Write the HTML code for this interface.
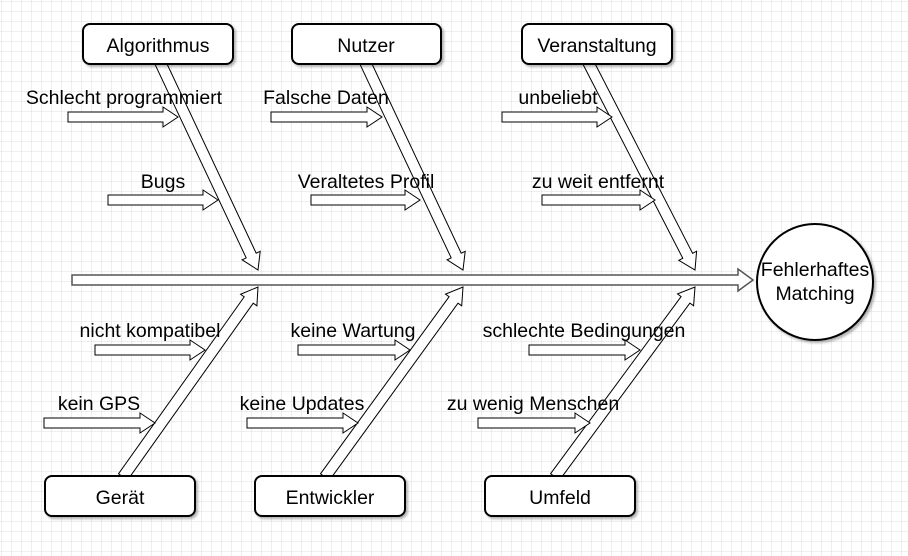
<!DOCTYPE html>
<html><head><meta charset="utf-8"><style>
html,body{margin:0;padding:0;background:#fff}
svg{display:block}
text{font-family:"Liberation Sans",sans-serif;font-size:19.5px;fill:#000}
</style></head><body>
<svg id="s" width="908" height="556" viewBox="0 0 908 556" xmlns="http://www.w3.org/2000/svg">
<defs>
<pattern id="g" width="10" height="10" patternUnits="userSpaceOnUse" x="2" y="2">
<path d="M10 0V10H0" fill="none" stroke="#dedede" stroke-width="1"/>
</pattern>
<filter id="sh" x="-10%" y="-10%" width="130%" height="140%"><feDropShadow dx="2" dy="2" stdDeviation="1.2" flood-color="#000" flood-opacity="0.3"/></filter>
</defs>
<rect width="908" height="556" fill="url(#g)"/>
<g id="arrows" fill="#fff" stroke="#000" stroke-width="1"></g>
<g fill="#fff" stroke="#000" stroke-width="2" filter="url(#sh)">
<rect x="83" y="24" width="150" height="40" rx="7"/>
<rect x="292" y="24" width="149" height="40" rx="7"/>
<rect x="522" y="24" width="150" height="40" rx="7"/>
<rect x="45" y="476" width="150" height="40" rx="7"/>
<rect x="255" y="476" width="150" height="40" rx="7"/>
<rect x="485" y="476" width="150" height="40" rx="7"/>
<circle cx="815" cy="282" r="58"/>
</g>
<g text-anchor="middle">
<text x="158" y="52">Algorithmus</text>
<text x="366" y="52">Nutzer</text>
<text x="597" y="52">Veranstaltung</text>
<text x="120" y="504">Gerät</text>
<text x="330" y="504">Entwickler</text>
<text x="560" y="504">Umfeld</text>
<text x="815" y="276">Fehlerhaftes</text>
<text x="815" y="300">Matching</text>
<text x="124" y="104">Schlecht programmiert</text>
<text x="163" y="188">Bugs</text>
<text x="326" y="104">Falsche Daten</text>
<text x="366" y="188">Veraltetes Profil</text>
<text x="558" y="104">unbeliebt</text>
<text x="598" y="188">zu weit entfernt</text>
<text x="150" y="337">nicht kompatibel</text>
<text x="99" y="410">kein GPS</text>
<text x="353" y="337">keine Wartung</text>
<text x="302" y="410">keine Updates</text>
<text x="584" y="337">schlechte Bedingungen</text>
<text x="533" y="410">zu wenig Menschen</text>
</g>
</svg>
<script>
function arr(x1,y1,x2,y2,sw,hw,hl,extra){
 var dx=x2-x1,dy=y2-y1,L=Math.hypot(dx,dy),ux=dx/L,uy=dy/L,nx=-uy,ny=ux;
 var bx=x2-ux*hl,by=y2-uy*hl;
 var p=[[x1+nx*sw,y1+ny*sw],[bx+nx*sw,by+ny*sw],[bx+nx*hw,by+ny*hw],[x2,y2],[bx-nx*hw,by-ny*hw],[bx-nx*sw,by-ny*sw],[x1-nx*sw,y1-ny*sw]];
 var e=document.createElementNS("http://www.w3.org/2000/svg","polygon");
 e.setAttribute("points",p.map(function(q){return q[0].toFixed(1)+","+q[1].toFixed(1)}).join(" "));
 if(extra){for(var k in extra)e.setAttribute(k,extra[k]);}
 document.getElementById("arrows").appendChild(e);
}
arr(72,280,753,280,5,11,15,{stroke:"#555","stroke-width":"1.5"});
arr(160,62,258,270,5.5,10,16);
arr(365,62,463,270,5.5,10,16);
arr(588,62,695,270,5.5,10,16);
arr(123,477,258,287,5.5,10,16);
arr(325,477,463,287,5.5,10,16);
arr(555,477,695,287,5.5,10,16);
var s=[[68,178,117],[108,218,200],[271,382,117],[311,420,200],[502,612,117],[542,655,200],
[95,205,350],[44,155,423],[298,410,350],[247,358,423],[529,640,350],[478,590,423]];
s.forEach(function(a){arr(a[0],a[2],a[1],a[2],5,10,15);});
</script>
</body></html>
